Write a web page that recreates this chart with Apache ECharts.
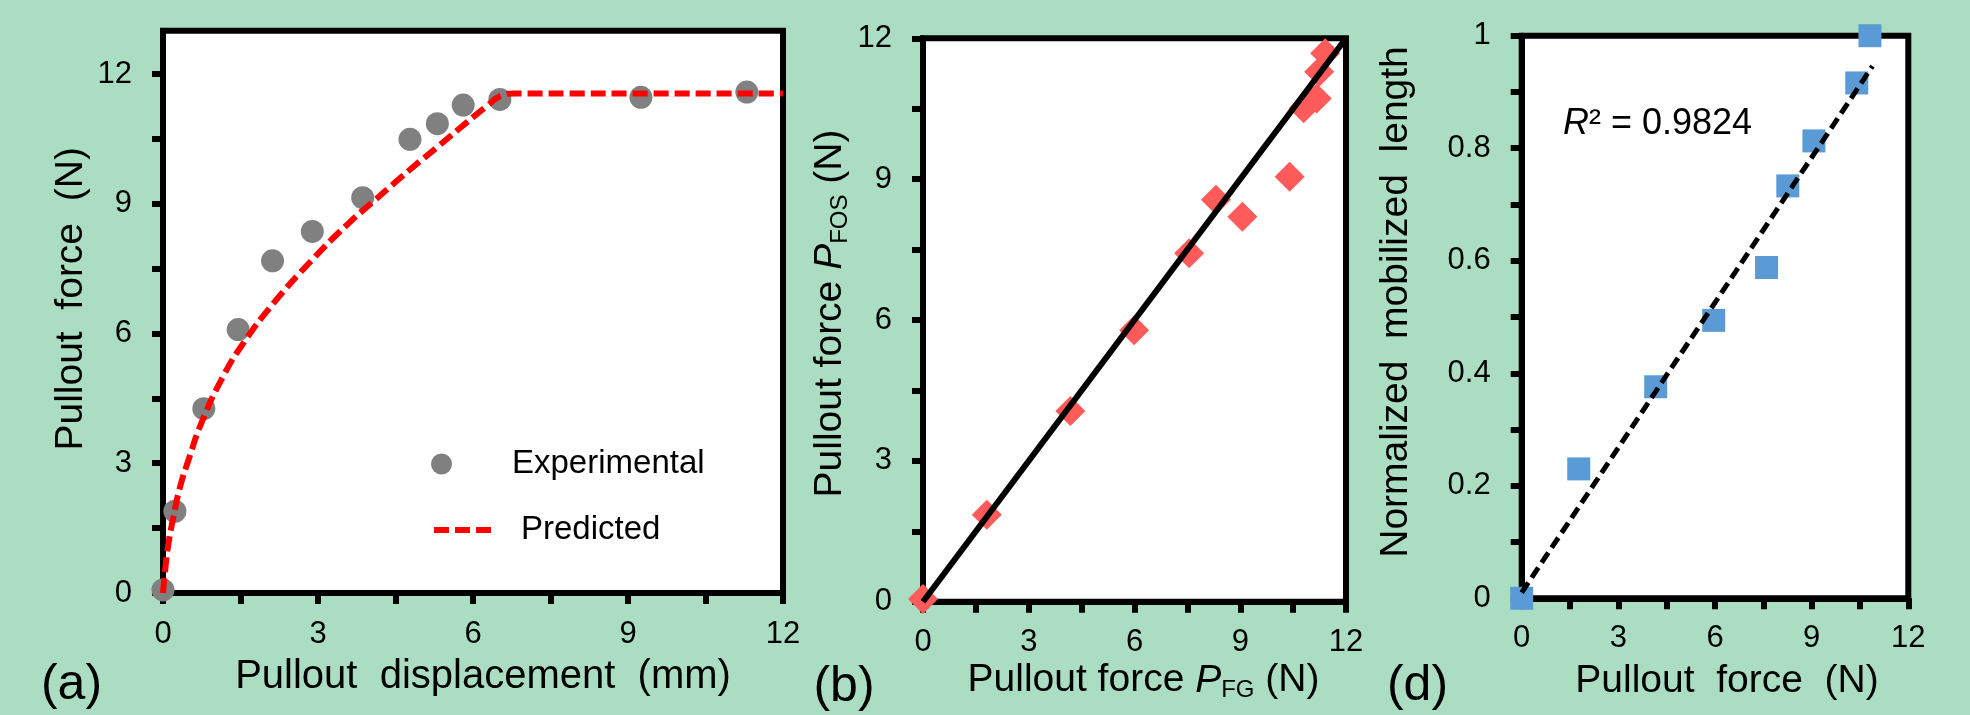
<!DOCTYPE html>
<html>
<head>
<meta charset="utf-8">
<script src="https://cdn.jsdelivr.net/npm/echarts@6/dist/echarts.min.js"></script>
<style>
  html, body { margin: 0; padding: 0; background: #abddc3; }
  #main { width: 1970px; height: 715px; }
</style>
</head>
<body>
<div id="main"></div>
<script>
// (a) pullout test: measured points
const aDisp = [0, 0.23, 0.79, 1.455, 2.12, 2.89, 3.865, 4.78, 5.31, 5.81, 6.52, 9.25, 11.3];
const aForce = [0.07, 1.89, 4.26, 6.09, 7.68, 8.36, 9.14, 10.49, 10.85, 11.28, 11.41, 11.46, 11.58];
// (a) predicted curve
const aPredDisp = [0, 0.04, 0.1, 0.2, 0.33, 0.5, 0.75, 1.16, 1.57, 2.14, 2.87, 3.55, 4.07, 4.5, 4.91, 5.3, 5.88, 6.26, 6.55, 6.8, 12];
const aPredForce = [0, 0.5, 1.1, 1.75, 2.45, 3.1, 3.95, 5.0, 5.8, 6.7, 7.68, 8.5, 9.05, 9.5, 9.92, 10.3, 10.88, 11.25, 11.5, 11.55, 11.55];

// (b) P_FOS against P_FG
const bFG = [0, 1.81, 4.18, 5.99, 7.55, 8.31, 9.06, 10.4, 10.8, 11.17, 11.24, 11.41];
const bFOS = [0.06, 1.85, 4.06, 5.78, 7.42, 8.56, 8.2, 9.05, 10.51, 10.72, 11.29, 11.68];
const bLineX = [0, 12];
const bLineY = [0, 12];

// (d) normalized mobilized length
const dForce = [0, 1.77, 4.16, 5.96, 7.6, 8.26, 9.07, 10.4, 10.81];
const dLength = [0, 0.23, 0.376, 0.494, 0.588, 0.733, 0.813, 0.916, 1.0];
const dTrendX = [0, 10.89];
const dTrendY = [0.01, 0.946];

// ticks and labels
const forceLabels = [0, 3, 6, 9, 12];
const forceTicks = [0, 1.5, 3, 4.5, 6, 7.5, 9, 10.5, 12];
const lengthLabels = [0, 0.2, 0.4, 0.6, 0.8, 1];
const lengthTicks = [0, 0.1, 0.2, 0.3, 0.4, 0.5, 0.6, 0.7, 0.8, 0.9, 1];

const font = 'Liberation Sans';
const black = '#000';

const zip = (xs, ys) => xs.map((x, i) => [x, ys[i]]);

function valueAxis(gridIndex, min, max, labels, ticks, margin, extra) {
  return Object.assign({
    type: 'value',
    gridIndex: gridIndex,
    min: min,
    max: max,
    axisLine: { show: true, onZero: false, lineStyle: { color: black, width: 6 } },
    axisTick: { show: true, length: 11, customValues: ticks, lineStyle: { color: black, width: 6 } },
    axisLabel: { customValues: labels, color: black, fontSize: 31, fontFamily: font, margin: margin },
    splitLine: { show: false },
    nameLocation: 'middle',
    nameMoveOverlap: false
  }, extra);
}

function nameStyle(pad, size) {
  return { color: black, fontSize: size || 39, fontFamily: font, lineHeight: 44, padding: [0, 0, 0, pad] };
}

// name with italic P and a subscript
function subNameStyle(pad) {
  const base = { color: black, fontSize: 39, fontFamily: font, lineHeight: 44 };
  return {
    color: black, fontFamily: font, padding: [0, 0, 0, pad],
    rich: {
      m: base,
      i: Object.assign({}, base, { fontStyle: 'italic' }),
      s: { color: black, fontFamily: font, fontSize: 24, lineHeight: 6, verticalAlign: 'bottom' }
    }
  };
}

const gridBox = { show: true, backgroundColor: '#fff', borderColor: black, borderWidth: 6, outerBoundsMode: 'none', containLabel: false };
const legendText = { color: black, fontSize: 33, fontFamily: font, lineHeight: 34 };
const redDash = { color: '#ff0000', width: 6, type: [15, 6], cap: 'butt' };

const myChart = echarts.init(document.getElementById('main'));

const option = {
  animation: false,
  backgroundColor: '#abddc3',
  grid: [
    Object.assign({ left: 163, top: 30.7, width: 620, height: 562.3 }, gridBox),
    Object.assign({ left: 923, top: 38.3, width: 423, height: 563.4 }, gridBox),
    Object.assign({ left: 1521.7, top: 35.7, width: 386.6, height: 562.6 }, gridBox)
  ],
  xAxis: [
    valueAxis(0, 0, 12, forceLabels, forceTicks, 26, {
      name: 'Pullout  displacement  (mm)', nameGap: 62, nameTextStyle: nameStyle(20, 40)
    }),
    valueAxis(1, 0, 12, forceLabels, forceTicks, 25, {
      name: '{m|Pullout force }{i|P}{s|FG}{m| (N)}', nameGap: 57, nameTextStyle: subNameStyle(18)
    }),
    valueAxis(2, 0, 12, forceLabels, forceTicks, 25, {
      name: 'Pullout  force  (N)', nameGap: 61, nameTextStyle: nameStyle(24)
    })
  ],
  yAxis: [
    valueAxis(0, 0, 13, forceLabels, forceTicks, 31, {
      name: 'Pullout  force  (N)', nameRotate: 90, nameGap: 70, nameTextStyle: nameStyle(26)
    }),
    valueAxis(1, 0, 12, forceLabels, forceTicks, 31, {
      name: '{m|Pullout force }{i|P}{s|FOS}{m| (N)}', nameRotate: 90, nameGap: 71, nameTextStyle: subNameStyle(13)
    }),
    valueAxis(2, 0, 1, lengthLabels, lengthTicks, 31, {
      name: 'Normalized  mobilized  length', nameRotate: 90, nameGap: 103, nameTextStyle: nameStyle(30)
    })
  ],
  legend: [
    {
      data: ['Experimental'],
      left: 426, top: 442,
      itemWidth: 41, itemHeight: 21,
      textStyle: Object.assign({ padding: [0, 0, 0, 45] }, legendText)
    },
    {
      data: [{ name: 'Predicted', itemStyle: { opacity: 0 } }],
      left: 426, top: 508,
      itemWidth: 57, itemHeight: 21,
      lineStyle: { width: 6, type: [15, 6], cap: 'butt' },
      textStyle: Object.assign({ padding: [0, 0, 0, 25] }, legendText)
    }
  ],
  series: [
    {
      name: 'Predicted',
      type: 'line',
      xAxisIndex: 0, yAxisIndex: 0,
      data: zip(aPredDisp, aPredForce),
      symbol: 'none',
      smooth: 0.5,
      lineStyle: redDash,
      itemStyle: { color: '#ff0000' }
    },
    {
      name: 'Experimental',
      type: 'scatter',
      xAxisIndex: 0, yAxisIndex: 0,
      data: zip(aDisp, aForce),
      symbol: 'circle',
      symbolSize: 23,
      itemStyle: { color: '#808080', opacity: 1 }
    },
    {
      name: 'b-line',
      type: 'line',
      xAxisIndex: 1, yAxisIndex: 1,
      data: zip(bLineX, bLineY),
      symbol: 'none',
      lineStyle: { color: black, width: 6 }
    },
    {
      name: 'b-points',
      type: 'scatter',
      xAxisIndex: 1, yAxisIndex: 1,
      data: zip(bFG, bFOS),
      symbol: 'diamond',
      symbolSize: 30,
      itemStyle: { color: '#ff5b5b', opacity: 1 }
    },
    {
      name: 'd-points',
      type: 'scatter',
      xAxisIndex: 2, yAxisIndex: 2,
      data: zip(dForce, dLength),
      symbol: 'rect',
      symbolSize: 23,
      itemStyle: { color: '#5b9bd5', opacity: 1 }
    },
    {
      name: 'd-trend',
      type: 'line',
      xAxisIndex: 2, yAxisIndex: 2,
      data: zip(dTrendX, dTrendY),
      symbol: 'none',
      lineStyle: { color: black, width: 5, type: [12, 6], cap: 'butt' }
    }
  ],
  graphic: [
    { type: 'text', x: 71.5, y: 685, style: { text: '(a)', fontSize: 50, fontFamily: font, fill: black, align: 'center', verticalAlign: 'middle' } },
    { type: 'text', x: 844, y: 687, style: { text: '(b)', fontSize: 50, fontFamily: font, fill: black, align: 'center', verticalAlign: 'middle' } },
    { type: 'text', x: 1417.5, y: 686, style: { text: '(d)', fontSize: 50, fontFamily: font, fill: black, align: 'center', verticalAlign: 'middle' } },
    {
      type: 'text', x: 1563, y: 124, z: 10,
      style: {
        text: '{i|R}{n|² = 0.9824}',
        align: 'left', verticalAlign: 'middle',
        rich: {
          i: { fontSize: 36, fontFamily: font, fontStyle: 'italic', fill: black },
          n: { fontSize: 36, fontFamily: font, fill: black }
        }
      }
    }
  ]
};

myChart.setOption(option);
</script>
</body>
</html>
